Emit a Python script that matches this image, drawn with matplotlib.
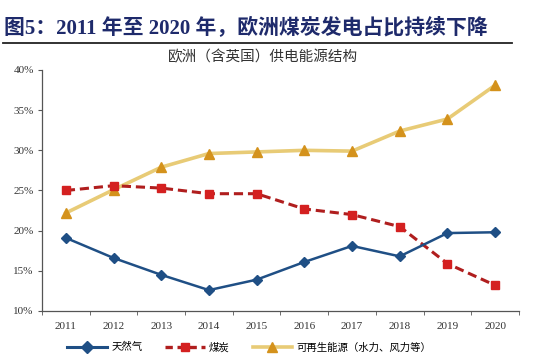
import matplotlib
matplotlib.use("Agg")
import matplotlib.pyplot as plt
from matplotlib.lines import Line2D
import numpy as np

plt.rcParams['font.family'] = ['Liberation Serif', 'Noto Sans CJK SC']

years = ['2011', '2012', '2013', '2014', '2015', '2016', '2017', '2018', '2019', '2020']
gas = [19.1, 16.6, 14.5, 12.6, 13.9, 16.1, 18.1, 16.8, 19.7, 19.8]
coal = [25.0, 25.6, 25.3, 24.6, 24.6, 22.7, 22.0, 20.5, 15.9, 13.2]
renew = [22.2, 25.1, 27.9, 29.6, 29.8, 30.0, 29.9, 32.4, 33.9, 38.1]
labels = ['天然气', '煤炭', '可再生能源（水力、风力等）']
yticks = [10, 15, 20, 25, 30, 35, 40]

fig = plt.figure(figsize=(5.42, 3.58), dpi=100)
ax = fig.add_axes([0.0775, 0.1313, 0.880, 0.6732])

x = np.arange(len(years))
ax.plot(x, renew, color='#E8CB76', lw=2.6, marker='^', ms=7,
        mfc='#D4921C', mec='#D4921C', zorder=2)
ax.plot(x, coal, color='#B01E1E', lw=2.2, ls=(0, (3, 1.6)), marker='s', ms=6,
        mfc='#D42020', mec='#D42020', zorder=3)
ax.plot(x, gas, color='#1F4F85', lw=1.8, marker='D', ms=5.5,
        mfc='#1F4F85', mec='#1F4F85', zorder=4)

ax.set_xlim(-0.5, len(years) - 0.5)
ax.set_ylim(10, 40)
ax.set_yticks(yticks)
ax.set_yticklabels([f'{v}%' for v in yticks], fontsize=8, color='#333333')
ax.set_xticks(x)
ax.set_xticklabels(years, fontsize=8, color='#333333')
ax.set_xticks(np.arange(-0.5, len(years)), minor=True)
ax.tick_params(axis='x', which='major', length=0, pad=8)
ax.tick_params(axis='x', which='minor', length=3, direction='out', color='#555555')
ax.tick_params(axis='y', length=3, direction='out', color='#555555', pad=3)
for s in ['top', 'right']:
    ax.spines[s].set_visible(False)
for s in ['left', 'bottom']:
    ax.spines[s].set_color('#555555')
    ax.spines[s].set_linewidth(0.9)

# title and rule
fig.text(0.008, 0.893, '图5：2011 年至 2020 年，欧洲煤炭发电占比持续下降',
         fontsize=15, fontweight='bold', color='#1E2A6B', ha='left', va='bottom')
fig.add_artist(Line2D([0.006, 0.945], [0.881, 0.881], color='#222222', lw=1.3))
fig.text(0.485, 0.840, '欧洲（含英国）供电能源结构', fontsize=10.5,
         color='#333333', ha='center', va='center',
         family=['Noto Sans CJK SC'])

# legend along the bottom edge
handles = [
    Line2D([], [], color='#1F4F85', lw=2.2, marker='D', ms=6, mfc='#1F4F85'),
    Line2D([], [], color='#B01E1E', lw=2.4, ls=(0, (2.2, 1.4)), marker='s', ms=6,
           mfc='#D42020', mec='#D42020'),
    Line2D([], [], color='#E8CB76', lw=2.6, marker='^', ms=7,
           mfc='#D4921C', mec='#D4921C'),
]
fig.legend(handles, labels, loc='center', bbox_to_anchor=(0.46, 0.03),
           ncol=3, frameon=False, handlelength=3.8,
           columnspacing=2.2, handletextpad=0.4,
           prop={'family': ['Noto Sans CJK SC'], 'size': 7.5})

fig.savefig('out.png', dpi=100)
